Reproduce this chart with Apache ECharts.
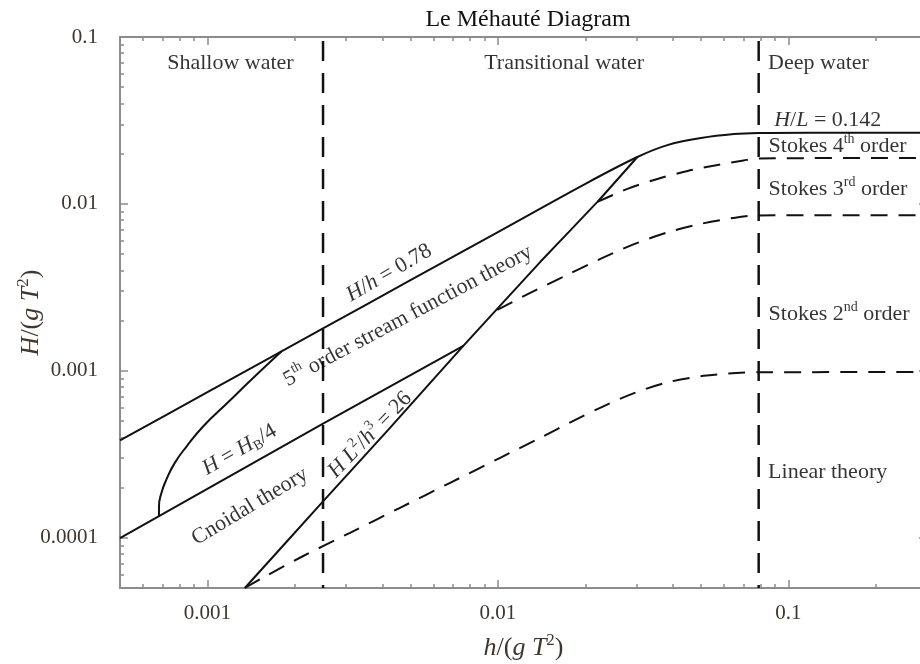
<!DOCTYPE html>
<html>
<head>
<meta charset="utf-8">
<script src="https://cdn.jsdelivr.net/npm/echarts@6/dist/echarts.min.js"></script>
<style>
html,body{margin:0;padding:0;background:#ffffff;}
#chart{width:920px;height:664px;}
</style>
</head>
<body>
<div id="chart"></div>
<script>
// ---------- data ----------
const xRange = [0.0005, 0.3];
const yRange = [0.00005, 0.1];

const xMajorTicks = [0.001, 0.01, 0.1];
const xMinorTicks = [0.0006, 0.0007, 0.0008, 0.0009,
  0.002, 0.003, 0.004, 0.005, 0.006, 0.007, 0.008, 0.009,
  0.02, 0.03, 0.04, 0.05, 0.06, 0.07, 0.08, 0.09, 0.2, 0.3];
const yMajorTicks = [0.0001, 0.001, 0.01, 0.1];
const yMinorTicks = [0.00006, 0.00007, 0.00008, 0.00009,
  0.0002, 0.0003, 0.0004, 0.0005, 0.0006, 0.0007, 0.0008, 0.0009,
  0.002, 0.003, 0.004, 0.005, 0.006, 0.007, 0.008, 0.009,
  0.02, 0.03, 0.04, 0.05, 0.06, 0.07, 0.08, 0.09];

// breaking limit: H/h = 0.78 in shallow water, H/L = 0.142 in deep water
const breakingLimit = [
  [0.0005, 0.000383], [0.001, 0.000745], [0.0025, 0.001795], [0.005, 0.00349],
  [0.01, 0.006785], [0.0203, 0.01338], [0.0302, 0.0191], [0.0383, 0.0225],
  [0.05, 0.0248], [0.065, 0.0262], [0.079, 0.0266], [0.12, 0.0267], [0.3, 0.0267]
];
// H = H_B / 4
const quarterBreaking = [[0.0005, 0.0000995], [0.0025, 0.000482], [0.0076, 0.00141]];
// Ursell number H L^2 / h^3 = 26
const ursellLimit = [
  [0.001345, 0.00005], [0.0025, 0.000165], [0.00419, 0.000443], [0.0076, 0.00141],
  [0.014, 0.0045], [0.022, 0.01028], [0.0302, 0.0191]
];
// 5th order stream function / cnoidal boundary
const streamFunctionLimit = [
  [0.000681, 0.000134], [0.000681, 0.000154], [0.000694, 0.000185], [0.000722, 0.000223],
  [0.000771, 0.00028], [0.000847, 0.000352], [0.000966, 0.000464], [0.001163, 0.000635],
  [0.001436, 0.000905], [0.0018, 0.001309]
];
// linear / Stokes 2nd order boundary (dashed)
const linearLimit = [
  [0.001345, 0.00005], [0.001551, 0.0000576], [0.002081, 0.0000759], [0.003096, 0.0001071],
  [0.004603, 0.0001512], [0.006848, 0.0002135], [0.01018, 0.0003013], [0.01399, 0.000397],
  [0.01818, 0.0005019], [0.02307, 0.000613], [0.02928, 0.0007333], [0.03836, 0.0008533],
  [0.05103, 0.0009335], [0.06845, 0.0009728], [0.079, 0.0009795], [0.3, 0.000986]
];
// Stokes 2nd / 3rd order boundary (dashed)
const stokes2Limit = [
  [0.00995, 0.002319], [0.01292, 0.002931], [0.01775, 0.003836], [0.02253, 0.004685],
  [0.02928, 0.005721], [0.03836, 0.00675], [0.04984, 0.007588], [0.06478, 0.008245],
  [0.079, 0.008535], [0.3, 0.00855]
];
// Stokes 3rd / 4th order boundary (dashed)
const stokes3Limit = [
  [0.022, 0.01028], [0.02792, 0.0123], [0.03541, 0.01411], [0.04496, 0.01576],
  [0.05705, 0.01712], [0.07015, 0.01822], [0.079, 0.01873], [0.3, 0.01886]
];
// depth regime limits h/(gT^2)
const shallowLimit = 0.0025;
const deepLimit = 0.079;

// annotations: [text, x, y]
const centeredNotes = [
  ['Shallow water', 0.0012, 0.0699],
  ['Transitional water', 0.0169, 0.0699]
];
const leftNotes = [
  ['Deep water', 0.0848, 0.0699],
  ['{i|H}/{i|L} = 0.142', 0.089, 0.0318],
  ['Stokes 4{sup|th} order', 0.0851, 0.0222],
  ['Stokes 3{sup|rd} order', 0.0851, 0.0123],
  ['Stokes 2{sup|nd} order', 0.0851, 0.00219],
  ['Linear theory', 0.0848, 0.000248]
];
const slopedNotes = [
  ['{i|H}/{i|h} = 0.78', 0.00422, 0.00386],
  ['5{sup|th} order stream function theory', 0.0049, 0.00213],
  ['{i|H} = {i|H}{sub|B}/4', 0.00129, 0.000336],
  ['Cnoidal theory', 0.0014, 0.000154],
  ['{i|H} {i|L}{sup|2}/{i|h}{sup|3} = 26', 0.00363, 0.000414]
];
const slopedAngles = [30, 28, 30, 31, 46];

// ---------- styling ----------
const FONT = 'Liberation Serif';
const INK = '#111111';
const NOTE_INK = '#000000';
const AXIS_INK = '#3e3630';
const AXIS_LINE = '#8c8c8c';

function rich(size, color) {
  const s = Math.round(size * 0.64);
  return {
    i: {fontFamily: FONT, fontStyle: 'italic', fontSize: size, color: color, textBorderWidth: 0},
    sup: {fontFamily: FONT, fontSize: s, color: color, textBorderWidth: 0,
      padding: [0, 0, Math.round(size * 0.62), 0]},
    sub: {fontFamily: FONT, fontSize: s, color: color, textBorderWidth: 0,
      padding: [Math.round(size * 0.5), 0, 0, 0]}
  };
}

function fmt(v) { return String(+Number(v).toPrecision(3)); }

function xAxisDef(position, ticks, len, showLine, showLabel, extra) {
  return Object.assign({
    type: 'log', logBase: 10, min: xRange[0], max: xRange[1], gridIndex: 0,
    position: position,
    axisLine: {show: showLine, onZero: false, lineStyle: {color: AXIS_LINE, width: 2}},
    axisTick: {show: true, inside: true, length: len, customValues: ticks,
      lineStyle: {color: AXIS_LINE, width: 1.5}},
    axisLabel: {show: showLabel, customValues: ticks, formatter: fmt, margin: 15,
      fontFamily: FONT, fontSize: 21, color: AXIS_INK},
    splitLine: {show: false}, minorTick: {show: false}
  }, extra || {});
}
function yAxisDef(position, ticks, len, showLine, showLabel, extra) {
  return Object.assign({
    type: 'log', logBase: 10, min: yRange[0], max: yRange[1], gridIndex: 0,
    position: position,
    axisLine: {show: showLine, onZero: false, lineStyle: {color: AXIS_LINE, width: 2}},
    axisTick: {show: true, inside: true, length: len, customValues: ticks,
      lineStyle: {color: AXIS_LINE, width: 1.5}},
    axisLabel: {show: showLabel, customValues: ticks, formatter: fmt, margin: 22,
      fontFamily: FONT, fontSize: 21, color: AXIS_INK},
    splitLine: {show: false}, minorTick: {show: false}
  }, extra || {});
}

function curve(data, dashed, smooth) {
  return {
    type: 'line', xAxisIndex: 0, yAxisIndex: 0, data: data,
    showSymbol: false, symbol: 'none', smooth: smooth, silent: true,
    lineStyle: {color: INK, width: 2, type: dashed ? [17, 11] : 'solid', cap: 'butt'},
    z: 3
  };
}
function vertical(x) {
  return {
    type: 'line', xAxisIndex: 0, yAxisIndex: 0,
    data: [[x, yRange[0]], [x, yRange[1]]],
    showSymbol: false, symbol: 'none', silent: true,
    lineStyle: {color: INK, width: 2.5, type: [20, 12], dashOffset: 17, cap: 'butt'},
    z: 3
  };
}

const noteData = [];
centeredNotes.forEach(n => noteData.push({
  value: [n[1], n[2]],
  label: {formatter: n[0], position: 'inside'}
}));
leftNotes.forEach(n => noteData.push({
  value: [n[1], n[2]],
  label: {formatter: n[0], position: 'right', distance: 0}
}));
slopedNotes.forEach((n, k) => noteData.push({
  value: [n[1], n[2]],
  label: {formatter: n[0], position: 'inside', rotate: slopedAngles[k]}
}));

const option = {
  animation: false,
  backgroundColor: '#ffffff',
  title: {
    text: 'Le Méhauté Diagram', left: 523, top: 3, textAlign: 'center',
    textStyle: {fontFamily: FONT, fontSize: 24, fontWeight: 'normal', color: INK}
  },
  grid: {left: 120, right: -7, top: 37, bottom: 76, containLabel: false, outerBoundsMode: 'none'},
  xAxis: [
    xAxisDef('bottom', xMajorTicks, 8, true, true, {
      name: '{i|h}/({i|g} {i|T}{sup|2})', nameLocation: 'middle', nameGap: 44,
      nameTextStyle: {fontFamily: FONT, fontSize: 26, color: AXIS_INK, rich: rich(26, AXIS_INK)}
    }),
    xAxisDef('bottom', xMinorTicks, 4, false, false),
    xAxisDef('top', xMajorTicks, 8, true, false),
    xAxisDef('top', xMinorTicks, 4, false, false)
  ],
  yAxis: [
    yAxisDef('left', yMajorTicks, 8, true, true, {
      name: '{i|H}/({i|g} {i|T}{sup|2})', nameLocation: 'middle', nameGap: 72, nameRotate: 90,
      nameMoveOverlap: false,
      nameTextStyle: {fontFamily: FONT, fontSize: 26, color: AXIS_INK, rich: rich(26, AXIS_INK)}
    }),
    yAxisDef('left', yMinorTicks, 4, false, false),
    yAxisDef('right', yMajorTicks, 8, true, false),
    yAxisDef('right', yMinorTicks, 4, false, false)
  ],
  series: [
    vertical(shallowLimit),
    vertical(deepLimit),
    curve(breakingLimit, false, 0.3),
    curve(quarterBreaking, false, false),
    curve(ursellLimit, false, 0.15),
    curve(streamFunctionLimit, false, 0.5),
    curve(linearLimit, true, 0.3),
    curve(stokes2Limit, true, 0.3),
    curve(stokes3Limit, true, 0.3),
    {
      type: 'scatter', xAxisIndex: 0, yAxisIndex: 0, silent: true,
      symbolSize: 1, itemStyle: {color: 'rgba(0,0,0,0)'},
      label: {show: true, fontFamily: FONT, fontSize: 22, color: NOTE_INK,
        textBorderWidth: 0, textBorderColor: 'transparent', rich: rich(22, NOTE_INK)},
      labelLayout: {hideOverlap: false},
      data: noteData, z: 5
    }
  ]
};

const chart = echarts.init(document.getElementById('chart'), null, {renderer: 'canvas'});
chart.setOption(option);
</script>
</body>
</html>
